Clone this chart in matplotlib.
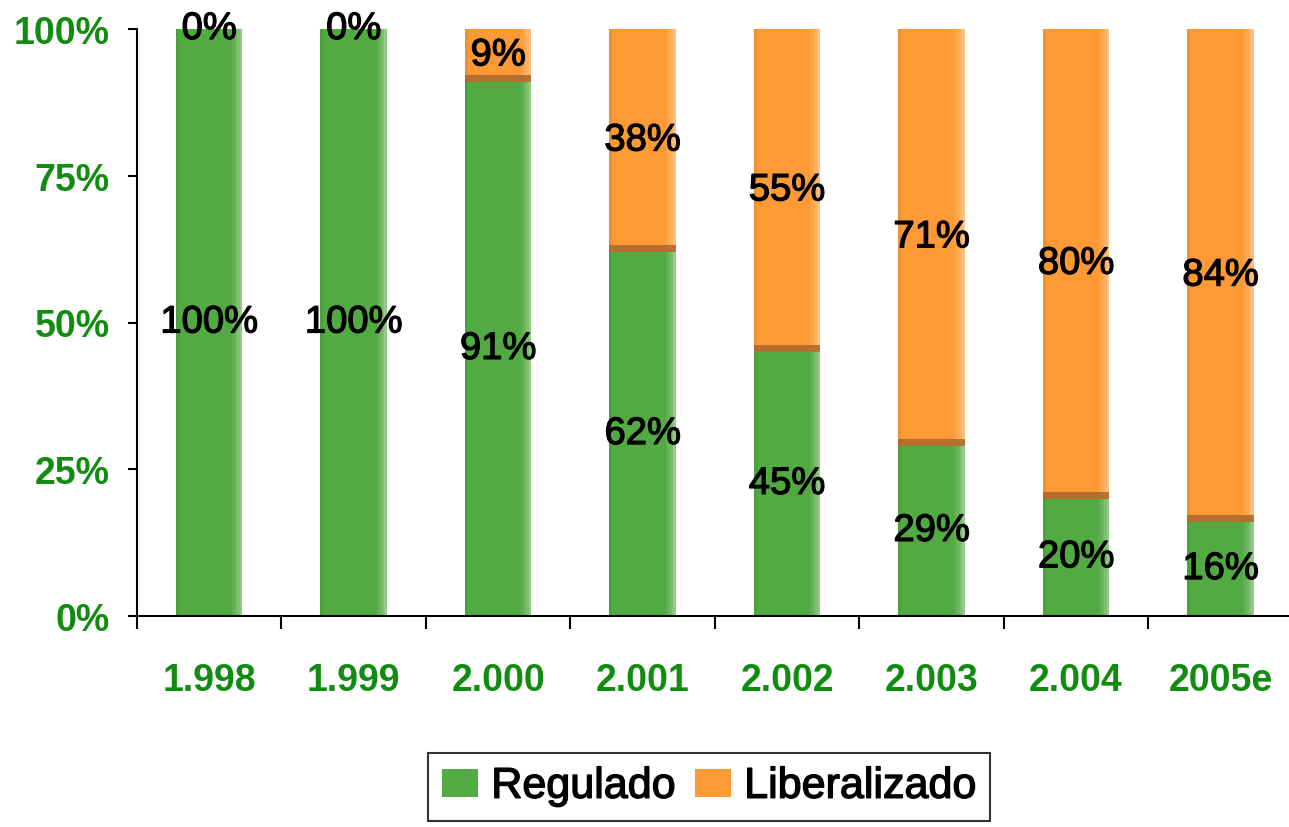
import matplotlib
matplotlib.use("Agg")
import matplotlib.pyplot as plt
import matplotlib.patheffects as pe
import numpy as np

categories = ["1.998", "1.999", "2.000", "2.001", "2.002", "2.003", "2.004", "2005e"]
regulado = [100, 100, 91, 62, 45, 29, 20, 16]
liberalizado = [0, 0, 9, 38, 55, 71, 80, 84]
yticks = [0, 25, 50, 75, 100]
ytick_labels = ["0%", "25%", "50%", "75%", "100%"]

GREEN = "#52aa42"
ORANGE = "#fd9a35"
LABEL_GREEN = "#118c11"

plt.rcParams['font.family'] = ['Liberation Sans', 'DejaVu Sans']

fig = plt.figure(figsize=(12.89, 8.28), dpi=100)
ax = fig.add_axes([137/1289, (828-617)/828, (1289-137)/1289 + 0.003, (617-30)/828])

x = np.arange(len(categories))
w = 0.46
ax.bar(x, regulado, width=w, color=GREEN, label="Regulado", zorder=2)
ax.bar(x, liberalizado, width=w, bottom=regulado, color=ORANGE, label="Liberalizado", zorder=2)

# soft highlight on the right edge of each bar (gradient imitation)
tot = [r + l for r, l in zip(regulado, liberalizado)]
for k, a in enumerate([0.08, 0.16, 0.26, 0.38]):
    sw = 0.018
    ax.bar(x + w / 2 - sw * (4 - k) + sw / 2, tot, width=sw, color="white",
           alpha=a, zorder=2.5, linewidth=0)
# darker left edge
ax.bar(x - w / 2 + 0.01, tot, width=0.02, color="black", alpha=0.06, zorder=2.5, linewidth=0)

# subtle shadow band at the top of the green segments
for xi, r, l in zip(x, regulado, liberalizado):
    if 0 < r < 100:
        ax.bar(xi, 1.2, width=w, bottom=r, color="#a8672c", alpha=0.85, zorder=3, linewidth=0)

thick = [pe.withStroke(linewidth=0.9, foreground="black")]
for xi, r, l in zip(x, regulado, liberalizado):
    ax.text(xi, r / 2, f"{r}%", ha="center", va="center", fontsize=27.5,
            color="black", zorder=4, path_effects=thick)
    ax.text(xi, r + l / 2, f"{l}%", ha="center", va="center", fontsize=27.5,
            color="black", zorder=4, path_effects=thick)

ax.set_xlim(-0.5, len(categories) - 0.5)
ax.set_ylim(0, 100)
ax.set_yticks(yticks)
ax.set_yticklabels(ytick_labels)
ax.set_xticks(x)
ax.set_xticklabels(categories)
ax.set_xticks(np.arange(len(categories) + 1) - 0.5, minor=True)
ax.tick_params(axis="x", which="major", length=0, pad=33, labelsize=27, labelcolor=LABEL_GREEN)
ax.tick_params(axis="x", which="minor", length=9, width=1.5, direction="out")
ax.tick_params(axis="y", length=6.5, width=1.5, direction="out", labelsize=27,
               labelcolor=LABEL_GREEN, pad=13)
for lbl in ax.get_xticklabels() + ax.get_yticklabels():
    lbl.set_fontweight("bold")

for s in ["top", "right"]:
    ax.spines[s].set_visible(False)
ax.spines["left"].set_linewidth(1.5)
ax.spines["bottom"].set_linewidth(1.5)

leg = fig.legend(loc="upper left", bbox_to_anchor=(428/1289, 1 - 754/828), ncol=2,
                 frameon=True, fancybox=False, edgecolor="black",
                 prop={"size": 31}, handlelength=0.85, handleheight=0.62,
                 handletextpad=0.3, columnspacing=0.45, borderpad=0.32, borderaxespad=0)
leg.get_frame().set_linewidth(1.5)
for t in leg.get_texts():
    t.set_path_effects([pe.withStroke(linewidth=1.0, foreground="black")])

fig.savefig("out.png", dpi=100)
